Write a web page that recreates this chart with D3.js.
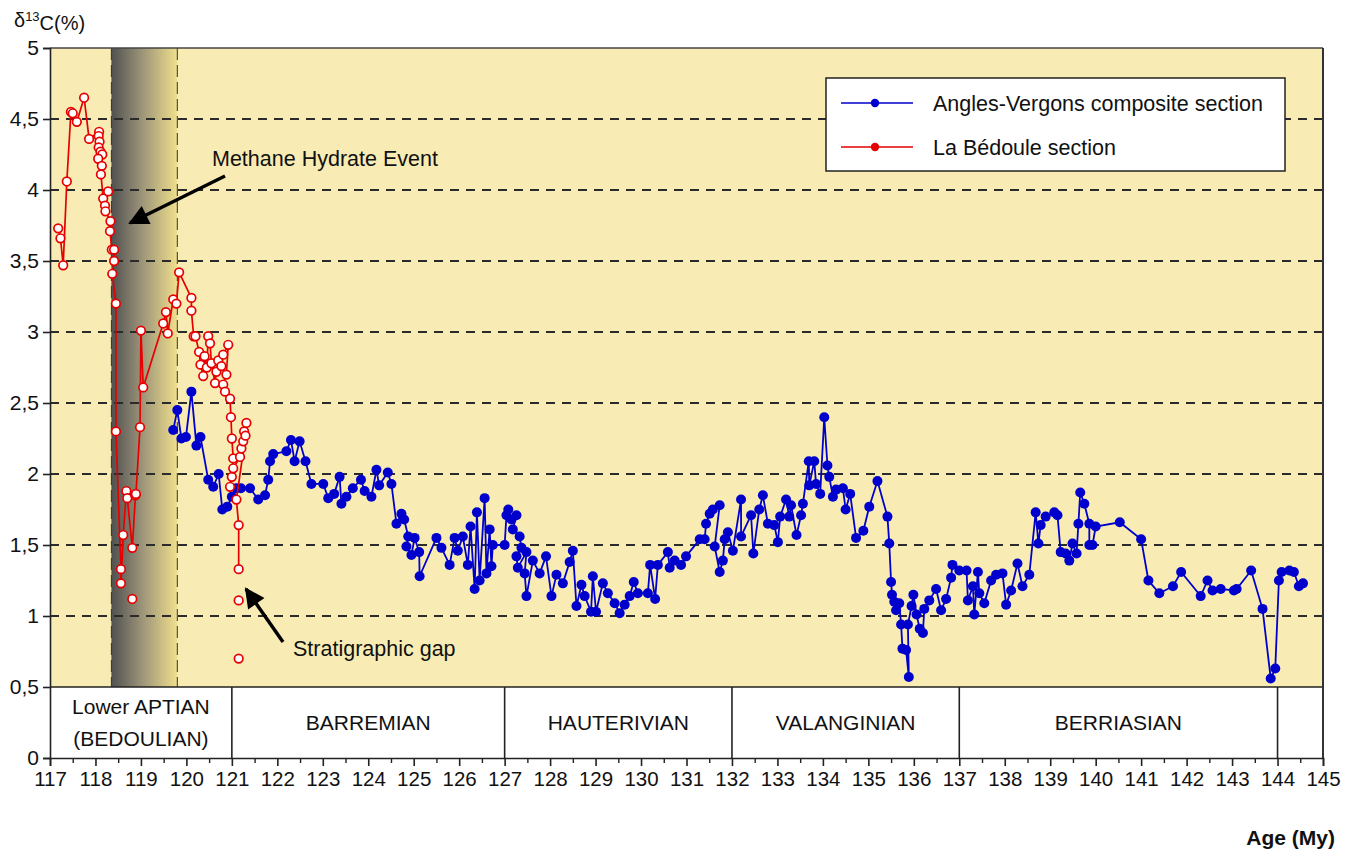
<!DOCTYPE html>
<html>
<head>
<meta charset="utf-8">
<script src="https://cdn.jsdelivr.net/npm/d3@7"></script>
<style>
  body { margin: 0; background: #fff; }
  text { font-family: "Liberation Sans", Arial, sans-serif; fill: #111; }
</style>
</head>
<body>
<svg id="chart" width="1360" height="855"></svg>
<script>
// La Bedoule section [age My, d13C]
var redSeries = [
  [117.18,3.73],[117.23,3.66],[117.29,3.47],[117.37,4.06],[117.46,4.55],[117.50,4.54],
  [117.59,4.48],[117.75,4.65],[117.86,4.36],[118.08,4.41],[118.07,4.38],[118.09,4.34],
  [118.07,4.30],[118.11,4.27],[118.15,4.25],[118.06,4.22],[118.14,4.17],[118.12,4.11],
  [118.17,3.94],[118.28,3.99],[118.21,3.89],[118.22,3.85],[118.33,3.78],[118.32,3.71],
  [118.36,3.58],[118.41,3.58],[118.41,3.50],[118.37,3.41],[118.45,3.20],[118.45,2.30],
  [118.56,1.33],[118.56,1.23],[118.61,1.57],[118.68,1.88],[118.70,1.83],[118.81,1.48],
  [118.88,1.85],[118.89,1.86],[118.98,2.33],[119.00,3.01],[119.05,2.61],[119.49,3.06],
  [119.55,3.14],[119.59,2.99],[119.71,3.23],[119.78,3.20],[119.84,3.42],[120.11,3.24],
  [120.11,3.15],[120.16,2.97],[120.20,2.97],[120.28,2.86],[120.31,2.77],[120.37,2.69],
  [120.40,2.83],[120.45,2.75],[120.48,2.97],[120.52,2.92],[120.55,2.78],[120.63,2.64],
  [120.66,2.72],[120.70,2.80],[120.77,2.76],[120.81,2.84],[120.92,2.91],[120.88,2.70],
  [120.81,2.63],[120.85,2.58],[120.96,2.53],[120.98,2.40],[121.00,2.25],[121.03,2.11],
  [121.00,1.98],[120.96,1.91],[121.03,2.04],[121.18,2.12],[121.21,2.18],[121.25,2.23],
  [121.27,2.30],[121.32,2.36],[121.30,2.27],[121.10,1.82],[121.15,1.64],[121.15,1.33]
];
// loose La Bedoule points below the gap
var redIsolated = [[118.81,1.12],[121.15,1.11],[121.15,0.70]];

// Angles-Vergons composite section [age My, d13C]
var blueSeries = [
  [119.71,2.31],[119.80,2.45],[119.89,2.25],[119.99,2.26],[120.11,2.58],[120.22,2.20],
  [120.31,2.26],[120.48,1.96],[120.59,1.91],[120.71,2.00],[120.79,1.75],[120.90,1.77],
  [121.00,1.84],[121.10,1.90],[121.20,1.90],[121.40,1.90],[121.58,1.82],[121.73,1.85],
  [121.80,1.96],[121.84,2.09],[121.91,2.14],[122.20,2.16],[122.30,2.24],[122.38,2.09],
  [122.49,2.23],[122.62,2.09],[122.75,1.93],[123.01,1.93],[123.12,1.83],[123.25,1.86],
  [123.37,1.98],[123.41,1.79],[123.52,1.84],[123.66,1.90],[123.84,1.96],[123.92,1.88],
  [124.07,1.84],[124.18,2.03],[124.24,1.92],[124.43,2.01],[124.51,1.93],[124.62,1.65],
  [124.73,1.72],[124.79,1.68],[124.88,1.56],[124.84,1.49],[124.95,1.43],[125.02,1.55],
  [125.12,1.45],[125.13,1.28],[125.50,1.55],[125.61,1.48],[125.79,1.36],[125.90,1.55],
  [125.97,1.46],[126.08,1.56],[126.19,1.36],[126.25,1.63],[126.34,1.19],[126.39,1.73],
  [126.45,1.25],[126.56,1.83],[126.60,1.30],[126.67,1.61],[126.71,1.35],[126.74,1.50],
  [127.00,1.50],[127.04,1.71],[127.08,1.75],[127.15,1.68],[127.26,1.71],[127.18,1.61],
  [127.33,1.56],[127.37,1.48],[127.26,1.42],[127.29,1.34],[127.48,1.45],[127.44,1.30],
  [127.48,1.14],[127.62,1.39],[127.77,1.30],[127.91,1.42],[128.03,1.14],[128.14,1.29],
  [128.28,1.23],[128.43,1.38],[128.50,1.46],[128.58,1.07],[128.69,1.22],[128.76,1.14],
  [128.90,1.03],[128.94,1.28],[129.01,1.03],[129.16,1.23],[129.27,1.16],[129.42,1.09],
  [129.53,1.02],[129.64,1.08],[129.75,1.14],[129.84,1.24],[129.93,1.16],[130.15,1.16],
  [130.20,1.36],[130.31,1.12],[130.37,1.36],[130.59,1.45],[130.63,1.34],[130.74,1.39],
  [130.88,1.36],[130.99,1.42],[131.29,1.54],[131.40,1.54],[131.43,1.65],[131.51,1.72],
  [131.58,1.75],[131.73,1.78],[131.62,1.49],[131.73,1.31],[131.80,1.39],[131.84,1.54],
  [131.91,1.59],[132.02,1.46],[132.20,1.82],[132.20,1.56],[132.42,1.71],[132.47,1.44],
  [132.60,1.75],[132.68,1.85],[132.79,1.65],[132.93,1.64],[133.01,1.52],[133.06,1.70],
  [133.19,1.82],[133.26,1.70],[133.30,1.78],[133.42,1.57],[133.52,1.71],[133.56,1.79],
  [133.69,2.09],[133.70,1.92],[133.81,2.09],[133.85,1.93],[133.94,1.86],[134.03,2.40],
  [134.10,2.06],[134.14,1.98],[134.22,1.84],[134.29,1.89],[134.44,1.90],[134.50,1.75],
  [134.60,1.86],[134.73,1.55],[134.89,1.60],[135.02,1.77],[135.20,1.95],[135.42,1.70],
  [135.46,1.51],[135.50,1.24],[135.52,1.15],[135.57,1.10],[135.61,1.04],[135.68,1.09],
  [135.72,0.94],[135.75,0.77],[135.83,0.76],[135.89,0.57],[135.87,0.94],[135.95,1.07],
  [135.99,1.15],[136.06,1.01],[136.13,0.91],[136.20,0.88],[136.23,1.05],[136.34,1.11],
  [136.49,1.19],[136.60,1.04],[136.71,1.12],[136.82,1.27],[136.85,1.36],[137.00,1.32],
  [137.16,1.32],[137.19,1.11],[137.30,1.21],[137.33,1.01],[137.41,1.31],[137.44,1.16],
  [137.55,1.09],[137.70,1.25],[137.81,1.29],[137.95,1.30],[138.03,1.08],[138.14,1.18],
  [138.28,1.37],[138.39,1.21],[138.54,1.29],[138.68,1.73],[138.74,1.51],[138.79,1.64],
  [138.90,1.70],[139.09,1.73],[139.16,1.71],[139.23,1.45],[139.34,1.44],[139.42,1.39],
  [139.49,1.51],[139.58,1.44],[139.62,1.65],[139.66,1.87],[139.75,1.79],[139.86,1.65],
  [139.86,1.50],[139.93,1.50],[140.00,1.63],[140.53,1.66],[141.00,1.54],[141.16,1.25],
  [141.40,1.16],[141.70,1.21],[141.88,1.31],[142.31,1.14],[142.46,1.25],[142.57,1.18],
  [142.75,1.19],[143.04,1.18],[143.10,1.19],[143.42,1.32],[143.67,1.05],[143.85,0.56],
  [143.95,0.63],[144.03,1.25],[144.09,1.31],[144.26,1.32],[144.36,1.31],[144.47,1.21],
  [144.56,1.23]
];

var yTicks = [0, 0.5, 1, 1.5, 2, 2.5, 3, 3.5, 4, 4.5, 5];
var xTicks = d3.range(117, 146);
var stageEdges = [117, 121, 127, 132, 137, 144, 145];
var stageNames = [
  ["Lower APTIAN", "(BEDOULIAN)"],
  ["BARREMIAN"],
  ["HAUTERIVIAN"],
  ["VALANGINIAN"],
  ["BERRIASIAN"]
];
var hydrateBand = [118.35, 119.8];

var yellow = "#f8ecb4";
var blue = "#0000cc";
var red = "#e60000";

var svg = d3.select("#chart");
var x = d3.scaleLinear().domain([117, 145]).range([50, 1323]);
var y = d3.scaleLinear().domain([0, 5]).range([758, 48]);

var defs = svg.append("defs");
var grad = defs.append("linearGradient").attr("id", "band");
grad.append("stop").attr("offset", "0%").attr("stop-color", "#505050");
grad.append("stop").attr("offset", "45%").attr("stop-color", "#9a9278");
grad.append("stop").attr("offset", "100%").attr("stop-color", "#efdf8c");

defs.append("marker")
    .attr("id", "head")
    .attr("markerUnits", "userSpaceOnUse")
    .attr("viewBox", "0 0 10 10")
    .attr("refX", 9).attr("refY", 5)
    .attr("markerWidth", 26).attr("markerHeight", 20)
    .attr("orient", "auto")
  .append("path")
    .attr("d", "M0,0 L10,5 L0,10 z")
    .attr("fill", "#000");

// plot background
svg.append("rect")
    .attr("x", x(117)).attr("y", y(5))
    .attr("width", x(145) - x(117)).attr("height", y(0.5) - y(5))
    .attr("fill", yellow);

svg.append("rect")
    .attr("x", x(hydrateBand[0])).attr("y", y(5))
    .attr("width", x(hydrateBand[1]) - x(hydrateBand[0])).attr("height", y(0.5) - y(5))
    .attr("fill", "url(#band)");

svg.selectAll("line.bandEdge")
  .data(hydrateBand)
  .enter().append("line")
    .attr("class", "bandEdge")
    .attr("x1", function(d) { return x(d); }).attr("x2", function(d) { return x(d); })
    .attr("y1", y(5)).attr("y2", y(0.5))
    .attr("stroke", "#333").attr("stroke-width", 1)
    .attr("stroke-dasharray", "12,5");

// horizontal dashed grid
svg.selectAll("line.grid")
  .data(yTicks.filter(function(d) { return d > 0.5 && d < 5; }))
  .enter().append("line")
    .attr("class", "grid")
    .attr("x1", x(117)).attr("x2", x(145))
    .attr("y1", function(d) { return y(d); }).attr("y2", function(d) { return y(d); })
    .attr("stroke", "#2b2b2b").attr("stroke-width", 2.2)
    .attr("stroke-dasharray", "9,7");

// stage table
svg.append("line")
    .attr("x1", x(117)).attr("x2", x(145))
    .attr("y1", y(0.5)).attr("y2", y(0.5))
    .attr("stroke", "#222").attr("stroke-width", 1.6);

svg.selectAll("line.stage")
  .data(stageEdges.slice(1, -1))
  .enter().append("line")
    .attr("class", "stage")
    .attr("x1", function(d) { return x(d); }).attr("x2", function(d) { return x(d); })
    .attr("y1", y(0.5)).attr("y2", y(0))
    .attr("stroke", "#222").attr("stroke-width", 1.6);

svg.selectAll("text.stage")
  .data(stageNames)
  .enter().append("text")
    .attr("class", "stage")
    .attr("text-anchor", "middle")
    .style("font-size", "21px")
  .each(function(lines, k) {
    var t = d3.select(this);
    var cx = x((stageEdges[k] + stageEdges[k + 1]) / 2);
    var mid = (y(0.5) + y(0)) / 2;
    var top = mid - (lines.length - 1) * 16;
    lines.forEach(function(line, i) {
      t.append("tspan")
        .attr("x", cx)
        .attr("y", top + i * 32)
        .attr("dy", "0.35em")
        .text(line);
    });
  });

// frame
svg.append("line")
    .attr("x1", x(117)).attr("x2", x(145))
    .attr("y1", y(5)).attr("y2", y(5))
    .attr("stroke", "#444").attr("stroke-width", 1.5);
svg.append("line")
    .attr("x1", x(145)).attr("x2", x(145))
    .attr("y1", y(5)).attr("y2", y(0))
    .attr("stroke", "#333").attr("stroke-width", 2);

// axes
var yAxis = svg.append("g")
    .attr("transform", "translate(" + x(117) + ",0)")
    .call(d3.axisLeft(y).tickValues(yTicks).tickSize(7).tickPadding(4)
      .tickFormat(function(d) { return String(d).replace(".", ","); }));
yAxis.selectAll("text").style("font-size", "21px").style("font-family", "'Liberation Sans', Arial, sans-serif").attr("fill", "#111");
yAxis.select(".domain").attr("stroke", "#222").attr("stroke-width", 1.6);
yAxis.selectAll(".tick line").attr("stroke", "#222").attr("stroke-width", 1.6);

var xMinor = svg.append("g")
    .attr("transform", "translate(0," + y(0) + ")")
    .call(d3.axisBottom(x).tickValues(d3.range(117.5, 145, 1)).tickSize(5).tickFormat(""));
xMinor.select(".domain").remove();
xMinor.selectAll(".tick line").attr("stroke", "#222").attr("stroke-width", 1.4);

var xAxis = svg.append("g")
    .attr("transform", "translate(0," + y(0) + ")")
    .call(d3.axisBottom(x).tickValues(xTicks).tickSize(8).tickPadding(5).tickFormat(d3.format("d")));
xAxis.selectAll("text").style("font-size", "20.5px").style("font-family", "'Liberation Sans', Arial, sans-serif").attr("fill", "#111");
xAxis.select(".domain").attr("stroke", "#222").attr("stroke-width", 1.6);
xAxis.selectAll(".tick line").attr("stroke", "#222").attr("stroke-width", 1.6);

// series
var line = d3.line()
    .x(function(d) { return x(d[0]); })
    .y(function(d) { return y(d[1]); });

svg.append("path")
    .datum(blueSeries)
    .attr("d", line)
    .attr("fill", "none").attr("stroke", blue).attr("stroke-width", 1.8);
svg.selectAll("circle.blue")
  .data(blueSeries)
  .enter().append("circle")
    .attr("class", "blue")
    .attr("cx", function(d) { return x(d[0]); })
    .attr("cy", function(d) { return y(d[1]); })
    .attr("r", 5)
    .attr("fill", blue);

svg.append("path")
    .datum(redSeries)
    .attr("d", line)
    .attr("fill", "none").attr("stroke", red).attr("stroke-width", 1.7);
svg.selectAll("circle.red")
  .data(redSeries.concat(redIsolated))
  .enter().append("circle")
    .attr("class", "red")
    .attr("cx", function(d) { return x(d[0]); })
    .attr("cy", function(d) { return y(d[1]); })
    .attr("r", 4.3)
    .attr("fill", "#fff").attr("stroke", red).attr("stroke-width", 1.7);

// annotations
svg.append("line")
    .attr("x1", 225).attr("y1", 176).attr("x2", 130).attr("y2", 223)
    .attr("stroke", "#000").attr("stroke-width", 3.5)
    .attr("marker-end", "url(#head)");
svg.append("text")
    .attr("x", 212).attr("y", 158).attr("dy", "0.35em")
    .style("font-size", "21.5px")
    .text("Methane Hydrate Event");

svg.append("line")
    .attr("x1", 283).attr("y1", 642).attr("x2", 246).attr("y2", 589)
    .attr("stroke", "#000").attr("stroke-width", 3.5)
    .attr("marker-end", "url(#head)");
svg.append("text")
    .attr("x", 293).attr("y", 648).attr("dy", "0.35em")
    .style("font-size", "21.5px")
    .text("Stratigraphic gap");

// legend
var legend = svg.append("g").attr("transform", "translate(826,78)");
legend.append("rect")
    .attr("width", 459).attr("height", 93)
    .attr("fill", "#fff").attr("stroke", "#222").attr("stroke-width", 1.5);
var legendItems = [
  {label: "Angles-Vergons composite section", color: blue, dy: 25},
  {label: "La B\u00e9doule section", color: red, dy: 69}
];
var li = legend.selectAll("g.item")
  .data(legendItems)
  .enter().append("g")
    .attr("class", "item")
    .attr("transform", function(d) { return "translate(0," + d.dy + ")"; });
li.append("line")
    .attr("x1", 15).attr("x2", 87)
    .attr("stroke", function(d) { return d.color; }).attr("stroke-width", 1.6);
li.append("circle")
    .attr("cx", 49).attr("r", 4.2)
    .attr("fill", function(d) { return d.color; });
li.append("text")
    .attr("x", 107).attr("dy", "0.35em")
    .style("font-size", "21.5px")
    .text(function(d) { return d.label; });

// axis titles
var yt = svg.append("text")
    .attr("x", 14).attr("y", 20).attr("dy", "0.35em")
    .style("font-size", "20px");
yt.append("tspan").text("\u03b4");
yt.append("tspan").attr("dy", "-0.45em").style("font-size", "13px").text("13");
yt.append("tspan").attr("dy", "0.45em").text("C(%)");

svg.append("text")
    .attr("x", 1335).attr("y", 838).attr("dy", "0.35em")
    .attr("text-anchor", "end")
    .style("font-size", "21px").style("font-weight", "bold")
    .text("Age (My)");
</script>
</body>
</html>
